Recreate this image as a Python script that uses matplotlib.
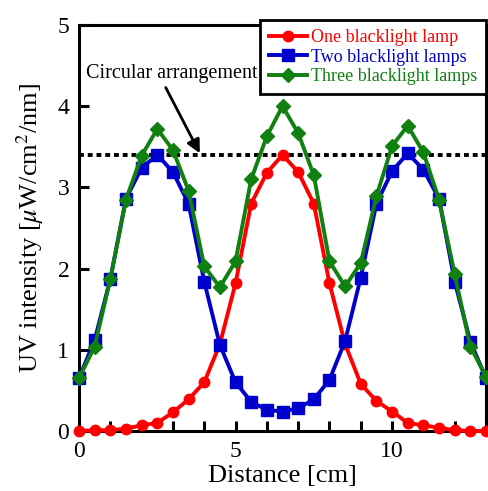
import numpy as np
import matplotlib
matplotlib.use('Agg')
import matplotlib.pyplot as plt

plt.rcParams['font.family'] = ['Liberation Serif', 'DejaVu Serif']
plt.rcParams['mathtext.fontset'] = 'stix'

# distance along the line of measurement [cm]
distance = np.arange(0, 13.01, 0.5)

one_lamp = [0.00, 0.01, 0.01, 0.03, 0.07, 0.10, 0.23, 0.39, 0.60, 1.07,
            1.82, 2.80, 3.18, 3.40, 3.19, 2.80, 1.82, 1.07, 0.58, 0.37,
            0.24, 0.10, 0.07, 0.04, 0.01, 0.00, 0.00]
two_lamps = [0.65, 1.12, 1.87, 2.86, 3.24, 3.40, 3.19, 2.80, 1.84, 1.06,
             0.60, 0.36, 0.26, 0.24, 0.28, 0.39, 0.63, 1.11, 1.89, 2.80,
             3.20, 3.42, 3.22, 2.86, 1.84, 1.10, 0.65]
three_lamps = [0.65, 1.04, 1.87, 2.85, 3.39, 3.72, 3.46, 2.96, 2.03, 1.77,
               2.09, 3.10, 3.63, 4.00, 3.67, 3.15, 2.09, 1.78, 2.07, 2.89,
               3.51, 3.76, 3.43, 2.85, 1.93, 1.04, 0.67]
circular_level = 3.40

fig = plt.figure(figsize=(4.88, 4.91), dpi=100)
ax = fig.add_axes([79/488, 1-431/491, 407/488, 406/491])

ax.axhline(circular_level, color='black', lw=2.8, ls=(0, (1.25, 1.0)), zorder=1)

l1, = ax.plot(distance, one_lamp, '-o', color='#ff0000', lw=2.8, ms=7.5,
              clip_on=False, zorder=3, label='One blacklight lamp')
l2, = ax.plot(distance, two_lamps, '-s', color='#0000cc', lw=2.8, ms=8.5,
              clip_on=False, zorder=4, label='Two blacklight lamps')
l3, = ax.plot(distance, three_lamps, '-D', color='#108010', lw=2.8, ms=7,
              clip_on=False, zorder=5, label='Three blacklight lamps')

# label and arrow pointing at the circular-arrangement level
ax.text(0.22, 4.40, 'Circular arrangement', fontsize=14.5, va='center',
        ha='left', zorder=6)
ax.annotate('', xy=(3.86, 3.42), xytext=(2.77, 4.23),
            arrowprops=dict(arrowstyle='-|>', color='black', lw=2,
                            mutation_scale=20, shrinkA=0, shrinkB=0),
            zorder=6)

ax.set_xlim(0, 13)
ax.set_ylim(0, 5)
ax.set_xticks([0, 5, 10])
ax.set_xticks(np.arange(0, 14, 1), minor=True)
ax.set_yticks(np.arange(0, 6, 1))
ax.tick_params(which='both', direction='in', top=False, right=False,
               width=2.2, length=7, labelsize=17, pad=7)
for s in ax.spines.values():
    s.set_linewidth(2.2)

ax.set_xlabel('Distance [cm]', fontsize=19, labelpad=2)
ax.set_ylabel(r'UV intensity [$\mu$W/cm$^2$/nm]', fontsize=19, labelpad=8)

leg = ax.legend(handles=[l1, l2, l3], loc='upper right',
                bbox_to_anchor=(486/488, 1-20/491),
                bbox_transform=fig.transFigure, borderaxespad=0,
                fontsize=13, fancybox=False, framealpha=1,
                edgecolor='black', handlelength=2.1, handletextpad=0.2,
                labelspacing=0.15, borderpad=0.5, labelcolor='linecolor')
leg.get_frame().set_linewidth(2)
leg.set_zorder(10)

fig.savefig('out.png', dpi=100)
